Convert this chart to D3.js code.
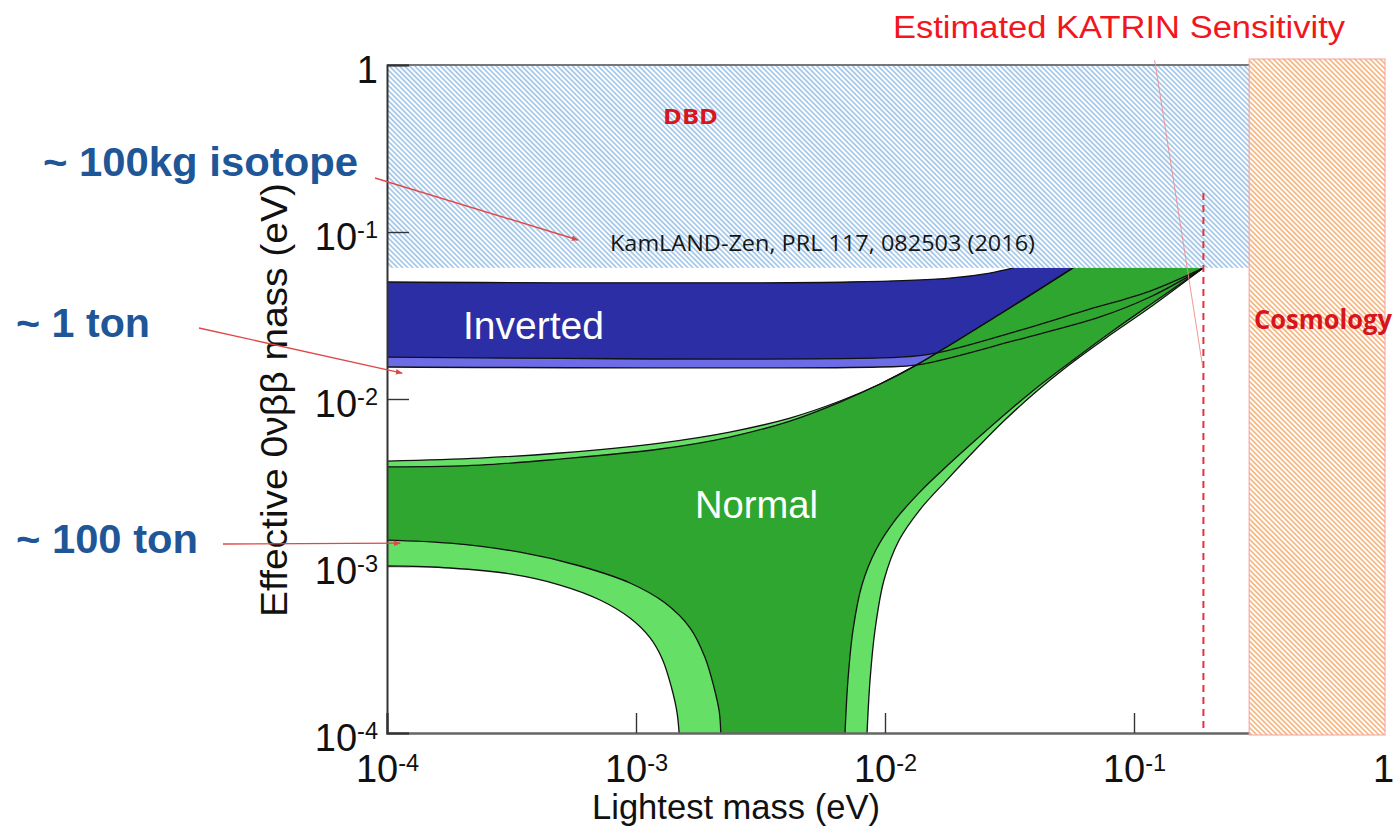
<!DOCTYPE html>
<html>
<head>
<meta charset="utf-8">
<script src="https://cdn.jsdelivr.net/npm/d3@7"></script>
<style>
  body { margin: 0; background: #fff; }
  svg { display: block; }
</style>
</head>
<body>
<svg id="chart" width="1395" height="837"></svg>
<script>
// ---- Limits (eV) ----
const kamlandLimit = 0.061;      // KamLAND-Zen upper bound on m_bb
const cosmologyLimit = 0.29;     // cosmology bound on the lightest mass
const katrinSensitivity = 0.19;  // estimated KATRIN reach
const katrinLineTop = 0.171;

// ---- Axis ticks ----
const majorTicks = [1e-4, 1e-3, 1e-2, 1e-1, 1];
const minorMultipliers = [2, 3, 4, 5, 6, 7, 8, 9];

// ---- Normal ordering band: [lightest mass, effective mass] in eV ----
const nhOuterUpper = [[1e-4,4.25e-3],[2.36e-4,4.43e-3],[4.95e-4,4.75e-3],[1.25e-3,5.45e-3],[2.38e-3,6.34e-3],[4.15e-3,7.69e-3],[6.60e-3,9.73e-3],[9.55e-3,1.23e-2],[1.34e-2,1.60e-2],[2.90e-2,3.23e-2],[5.69e-2,0.061]];
const nhInnerUpper = [[1e-4,3.92e-3],[2.36e-4,4.02e-3],[4.95e-4,4.37e-3],[1.25e-3,5.02e-3],[2.38e-3,5.92e-3],[4.15e-3,7.38e-3],[6.60e-3,9.59e-3]];
const nhOuterLowerLeft = [[1e-4,1.00e-3],[1.79e-4,9.73e-4],[3.12e-4,8.96e-4],[4.95e-4,7.69e-4],[7.17e-4,6.26e-4],[9.46e-4,4.88e-4],[1.14e-3,3.71e-4],[1.28e-3,2.74e-4],[1.39e-3,1.86e-4],[1.46e-3,1.34e-4],[1.49e-3,1e-4]];
const nhInnerLowerLeft = [[1e-4,1.43e-3],[1.79e-4,1.37e-3],[3.42e-4,1.21e-3],[5.96e-4,1.00e-3],[9.46e-4,7.91e-4],[1.31e-3,6.00e-4],[1.65e-3,4.25e-4],[1.89e-3,2.85e-4],[2.06e-3,1.86e-4],[2.16e-3,1.34e-4],[2.19e-3,1e-4]];
const nhInnerRight = [[6.91e-3,1e-4],[7.10e-3,2.08e-4],[7.44e-3,4.14e-4],[8.08e-3,7.69e-4],[9.20e-3,1.25e-3],[1.10e-2,1.89e-3],[1.38e-2,2.77e-3],[1.79e-2,4.02e-3],[2.41e-2,6.00e-3],[3.21e-2,8.71e-3],[4.31e-2,1.25e-2],[5.90e-2,1.78e-2],[8.31e-2,2.59e-2],[0.1237,3.92e-2],[0.19,0.061]];
const nhOuterRight = [[8.47e-3,1e-4],[8.71e-3,2.08e-4],[9.12e-3,4.14e-4],[9.91e-3,8.24e-4],[1.14e-2,1.43e-3],[1.38e-2,2.17e-3],[1.77e-2,3.27e-3],[2.30e-2,4.95e-3],[3.00e-2,7.38e-3],[4.00e-2,1.09e-2],[5.43e-2,1.58e-2],[7.72e-2,2.32e-2],[0.1181,3.60e-2],[0.19,0.061]];

// ---- Inverted ordering band ----
const ihUpper = [[1e-4,0.0502],[7.22e-3,0.0502],[1.82e-2,0.0530],[2.64e-2,0.0568],[3.27e-2,0.061]];
const ihInnerLower = [[1e-4,0.0178],[1.15e-2,0.0178],[1.62e-2,0.0189],[3.39e-2,0.0255],[6.24e-2,0.0336],[0.116,0.0443],[0.19,0.061]];
const ihOuterLower = [[1e-4,0.01555],[9.55e-3,0.01555],[1.35e-2,0.0160],[3.39e-2,0.0226],[7.30e-2,0.0310],[0.116,0.0408],[0.19,0.061]];

// ---- Experiment reach annotations: label and target point (eV) ----
const reachLabels = ["~ 100kg isotope", "~ 1 ton", "~ 100 ton"];
const reachTargets = [[5.85e-4, 0.0896], [1.15e-4, 0.0143], [1.13e-4, 1.37e-3]];

// ---- Layout ----
const svg = d3.select("#chart");
const x = d3.scaleLog().domain([1e-4, 1]).range([387, 1383]);
const y = d3.scaleLog().domain([1e-4, 1]).range([733, 65]);

const defs = svg.append("defs");
defs.append("clipPath").attr("id", "plotClip")
  .append("rect")
  .attr("x", x(1e-4)).attr("y", y(1))
  .attr("width", x(1) - x(1e-4)).attr("height", y(1e-4) - y(1));

function hatch(id, color) {
  const p = defs.append("pattern").attr("id", id)
    .attr("patternUnits", "userSpaceOnUse")
    .attr("width", 3.6).attr("height", 3.6)
    .attr("patternTransform", "rotate(-45)");
  p.append("rect").attr("width", 3.6).attr("height", 3.6).attr("fill", "#fff");
  p.append("line").attr("x1", 1.8).attr("y1", 0).attr("x2", 1.8).attr("y2", 3.6)
    .attr("stroke", color).attr("stroke-width", 1.4);
}
hatch("hatchBlue", "#8fbbe4");
hatch("hatchOrange", "#f4a765");

const arrow = defs.append("marker").attr("id", "arrowRed")
  .attr("viewBox", "0 0 10 10").attr("refX", 9).attr("refY", 5)
  .attr("markerWidth", 7).attr("markerHeight", 7).attr("orient", "auto")
  .attr("markerUnits", "userSpaceOnUse");
arrow.append("path").attr("d", "M0,1 L10,5 L0,9 Z").attr("fill", "#e04848");

const curveGen = d3.line()
  .x(d => x(d[0])).y(d => y(d[1]))
  .curve(d3.curveCatmullRom.alpha(0.5));

function region(segments) {
  return segments.map((s, i) => {
    const p = curveGen(s);
    return i === 0 ? p : "L" + p.slice(1);
  }).join("") + "Z";
}
const rev = a => a.slice().reverse();

const bands = svg.append("g").attr("clip-path", "url(#plotClip)");

// Inverted ordering
bands.append("path").attr("d", region([ihUpper, rev(ihOuterLower)])).attr("fill", "#6c6ce6");
bands.append("path").attr("d", region([ihUpper, rev(ihInnerLower)])).attr("fill", "#2c2ea6");

// Normal ordering
const nhInnerUpperFull = nhInnerUpper.concat(nhOuterUpper.slice(7));
bands.append("path").attr("d", region([nhOuterUpper, rev(nhOuterRight), rev(nhOuterLowerLeft)])).attr("fill", "#66df66");
bands.append("path").attr("d", region([nhInnerUpperFull, rev(nhInnerRight), rev(nhInnerLowerLeft)])).attr("fill", "#2fa62f");

// Band outlines
[nhOuterUpper, nhInnerUpperFull, nhOuterLowerLeft, nhInnerLowerLeft, nhInnerRight, nhOuterRight,
 ihUpper, ihInnerLower, ihOuterLower].forEach(c => {
  bands.append("path").attr("d", curveGen(c))
    .attr("fill", "none").attr("stroke", "#111").attr("stroke-width", 1.3);
});

// Region excluded by double beta decay searches
svg.append("rect")
  .attr("x", x(1e-4)).attr("y", y(1))
  .attr("width", x(cosmologyLimit) - x(1e-4)).attr("height", y(kamlandLimit) - y(1))
  .attr("fill", "url(#hatchBlue)");

// Top frame line
const axisColor = "#333";
svg.append("line").attr("x1", x(1e-4)).attr("x2", x(cosmologyLimit))
  .attr("y1", y(1)).attr("y2", y(1)).attr("stroke", "#777").attr("stroke-width", 2);

// KATRIN sensitivity
svg.append("line")
  .attr("x1", x(katrinSensitivity)).attr("x2", x(katrinSensitivity))
  .attr("y1", y(katrinLineTop)).attr("y2", y(1e-4))
  .attr("stroke", "#ea3038").attr("stroke-width", 2).attr("stroke-dasharray", "7,5");
svg.append("line")
  .attr("x1", x(0.121)).attr("y1", y(1) - 5)
  .attr("x2", x(katrinSensitivity) - 1).attr("y2", y(0.016))
  .attr("stroke", "#f08a8a").attr("stroke-width", 0.9);

// Axes
const minorTicks = [];
majorTicks.slice(0, -1).forEach(t => minorMultipliers.forEach(m => minorTicks.push(t * m)));

function supLabel(sel) {
  sel.each(function(d) {
    const t = d3.select(this);
    const e = Math.round(Math.log10(d));
    t.text(null);
    if (e === 0) {
      t.append("tspan").text("1");
    } else {
      t.append("tspan").text("10");
      t.append("tspan").attr("dy", "-0.48em").attr("font-size", "0.62em").text(String(e));
    }
  });
}

const xAxisG = svg.append("g").attr("transform", `translate(0,${y(1e-4)})`);
xAxisG.call(d3.axisBottom(x).tickValues(minorTicks).tickSize(-10).tickFormat(""));
xAxisG.call(d3.axisBottom(x).tickValues(majorTicks).tickSize(-20).tickPadding(22).tickFormat(d => d));
xAxisG.selectAll(".domain").attr("stroke", "#666").attr("stroke-width", 2.5);
xAxisG.selectAll(".tick line").attr("stroke", axisColor).attr("stroke-width", 1.4);
xAxisG.selectAll(".tick text")
  .attr("font-family", "Liberation Sans, Arial, sans-serif").attr("font-size", 38).attr("fill", "#111")
  .call(supLabel);

const yAxisG = svg.append("g").attr("transform", `translate(${x(1e-4)},0)`);
yAxisG.call(d3.axisLeft(y).tickValues(minorTicks).tickSize(-13).tickFormat(""));
yAxisG.call(d3.axisLeft(y).tickValues(majorTicks).tickSize(-22).tickPadding(9).tickFormat(d => d));
yAxisG.selectAll(".domain").attr("stroke", axisColor).attr("stroke-width", 2);
yAxisG.selectAll(".tick line").attr("stroke", axisColor).attr("stroke-width", 1.4);
yAxisG.selectAll(".tick text")
  .attr("font-family", "Liberation Sans, Arial, sans-serif").attr("font-size", 38).attr("fill", "#111")
  .attr("dy", "0.45em")
  .call(supLabel);

// Cosmology bound (drawn over the right end of the axes)
svg.append("rect")
  .attr("x", x(cosmologyLimit)).attr("y", y(1) - 6)
  .attr("width", x(1) - x(cosmologyLimit) + 2).attr("height", y(1e-4) - y(1) + 8)
  .attr("fill", "url(#hatchOrange)").attr("stroke", "#f4a0a0").attr("stroke-width", 1);

// Axis titles
svg.append("text")
  .attr("x", 736).attr("y", 819).attr("text-anchor", "middle")
  .attr("font-family", "Liberation Sans, Arial, sans-serif").attr("font-size", 35)
  .attr("textLength", 288).attr("lengthAdjust", "spacingAndGlyphs").attr("fill", "#111")
  .text("Lightest mass (eV)");
svg.append("text")
  .attr("transform", "translate(287,400) rotate(-90)").attr("text-anchor", "middle")
  .attr("font-family", "Liberation Sans, Arial, sans-serif").attr("font-size", 37)
  .attr("textLength", 434).attr("lengthAdjust", "spacingAndGlyphs").attr("fill", "#111")
  .text("Effective 0νββ mass (eV)");

// In-plot labels
svg.append("text").attr("x", 463).attr("y", 339)
  .attr("font-family", "Liberation Sans, Arial, sans-serif").attr("font-size", 38)
  .attr("textLength", 141).attr("lengthAdjust", "spacingAndGlyphs").attr("fill", "#fff")
  .text("Inverted");
svg.append("text").attr("x", 695).attr("y", 518)
  .attr("font-family", "Liberation Sans, Arial, sans-serif").attr("font-size", 38)
  .attr("textLength", 123).attr("lengthAdjust", "spacingAndGlyphs").attr("fill", "#fff")
  .text("Normal");
svg.append("text").attr("x", 663).attr("y", 124)
  .attr("font-family", "Open Sans, Liberation Sans, sans-serif").attr("font-weight", "bold").attr("font-size", 22)
  .attr("textLength", 55).attr("lengthAdjust", "spacingAndGlyphs").attr("fill", "#d8141c")
  .text("DBD");
svg.append("text").attr("x", 610).attr("y", 251)
  .attr("font-family", "Open Sans, Liberation Sans, sans-serif").attr("font-size", 21)
  .attr("textLength", 425).attr("lengthAdjust", "spacingAndGlyphs").attr("fill", "#151515")
  .text("KamLAND-Zen, PRL 117, 082503 (2016)");
svg.append("text").attr("x", 1254).attr("y", 329)
  .attr("font-family", "Open Sans, Liberation Sans, sans-serif").attr("font-weight", "bold").attr("font-size", 26)
  .attr("textLength", 138).attr("lengthAdjust", "spacingAndGlyphs").attr("fill", "#d8141c")
  .text("Cosmology");
svg.append("text").attr("x", 893).attr("y", 38)
  .attr("font-family", "Liberation Sans, Arial, sans-serif").attr("font-size", 31)
  .attr("textLength", 452).attr("lengthAdjust", "spacingAndGlyphs").attr("fill", "#f2161e")
  .text("Estimated KATRIN Sensitivity");

// Experiment reach labels with arrows
const reachText = [
  { x: 43, y: 176, len: 315, ax: 375, ay: 178 },
  { x: 16, y: 337, len: 134, ax: 199, ay: 328 },
  { x: 16, y: 553, len: 182, ax: 223, ay: 544 }
];
reachLabels.forEach((lab, i) => {
  const r = reachText[i];
  svg.append("text").attr("x", r.x).attr("y", r.y)
    .attr("font-family", "Liberation Sans, Arial, sans-serif").attr("font-weight", "bold").attr("font-size", 40)
    .attr("textLength", r.len).attr("lengthAdjust", "spacingAndGlyphs").attr("fill", "#1e5697")
    .text(lab);
  svg.append("line")
    .attr("x1", r.ax).attr("y1", r.ay)
    .attr("x2", x(reachTargets[i][0])).attr("y2", y(reachTargets[i][1]))
    .attr("stroke", "#e04848").attr("stroke-width", 1.4)
    .attr("marker-end", "url(#arrowRed)");
});
</script>
</body>
</html>
